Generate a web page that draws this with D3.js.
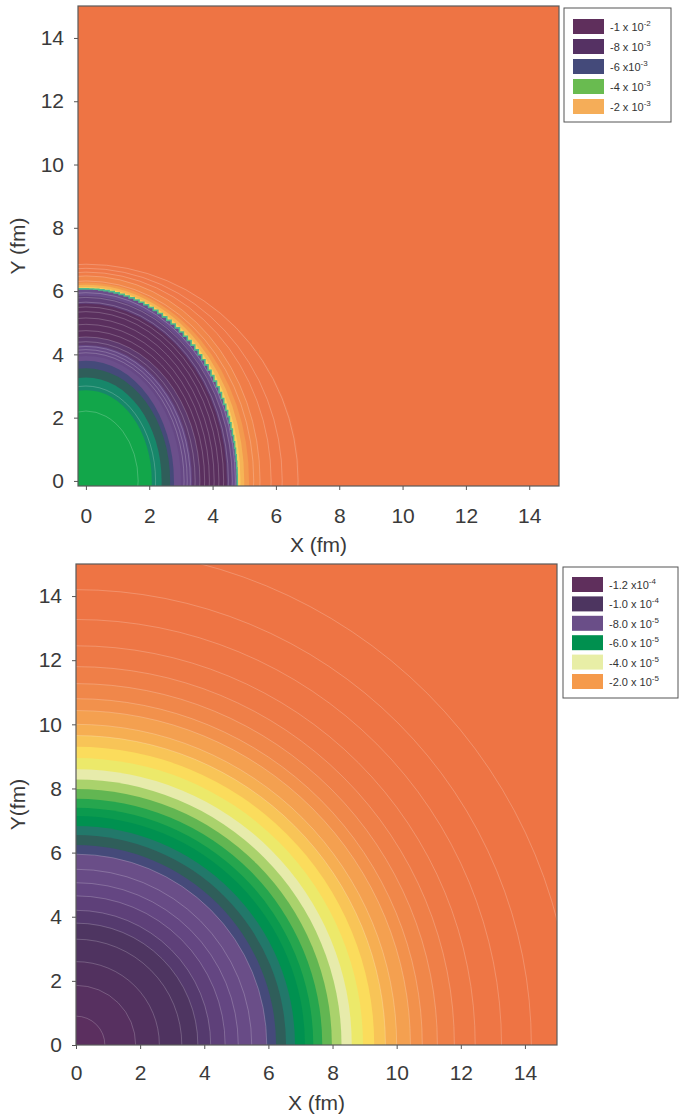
<!DOCTYPE html>
<html><head><meta charset="utf-8">
<script src="https://cdn.jsdelivr.net/npm/d3@7"></script>
<style>
html,body{margin:0;padding:0;background:#fff;}
svg{display:block;font-family:"Liberation Sans",Arial,sans-serif;}
</style></head>
<body>
<svg id="c" width="681" height="1117"></svg>
<script>
// ---------- data: top panel (elliptical bands, fm) ----------
const topBandRx   = [6.75, 5.85, 5.5, 5.15, 5.0, 4.88];
const topBandRy   = [6.85, 6.6, 6.48, 6.27, 6.2, 6.13];
const topBandCol  = ["#ef7848", "#f07d48", "#f1874a", "#f39a4e", "#f6b456", "#f8cf5f"];
const topEdgeRx = 4.78, topEdgeRy = 6.07;           // pixelated outer edge of the well
const topInRx  = [4.78, 4.62, 4.45, 3.6, 3.35, 3.0, 2.78, 2.66, 2.39, 2.08];
const topInRy  = [6.07, 5.85, 5.6, 4.55, 4.3, 3.95, 3.8, 3.56, 3.27, 2.87];
const topInCol = ["#6a4d8a", "#5f3f77", "#5a2f5e", "#5d3a6e", "#664885", "#6b4f8b", "#454a7a", "#2f5e5a", "#17876a", "#12a64a"];
const topLineRx = [6.7, 6.2, 5.85, 5.5, 5.3, 4.72, 4.62, 4.5, 4.35, 4.2, 4.05, 3.9, 3.75, 3.6, 3.45, 3.3, 3.2, 3.1, 2.2, 1.65];
const topLineRy = [6.85, 6.72, 6.6, 6.48, 6.32, 5.95, 5.8, 5.65, 5.5, 5.35, 5.15, 4.95, 4.75, 4.55, 4.4, 4.25, 4.15, 4.05, 3.0, 2.21];
const topLegendCol = ["#5f2f5c", "#553163", "#444a7a", "#69bb50", "#f5ad58"];
const topLegendMan = ["-1 x 10", "-8 x 10", "-6 x10", "-4 x 10", "-2 x 10"];
const topLegendExp = ["-2", "-3", "-3", "-3", "-3"];

// ---------- data: bottom panel (circular bands, fm) ----------
const botBandR = [0.9, 1.86, 2.6, 3.3, 3.8, 4.2, 4.65, 5.06, 5.48, 5.95, 6.24, 6.55, 6.83, 7.14, 7.4, 7.68, 7.98, 8.28, 8.6, 8.95, 9.3, 9.65, 10.0, 10.43, 10.8, 11.27, 11.8, 12.45, 13.27];
const botBandCol = ["#5b2f5f", "#573060", "#52315f", "#4f3360", "#4e3561", "#553a6e", "#5e4079", "#644682", "#684b86", "#6a4e88",
  "#454a7a", "#2f5e5a", "#22786a", "#009150", "#0b9a4e", "#26a64e", "#62b652", "#aad26c", "#e7ebab", "#ece96a",
  "#fbdc5c", "#f8c457", "#f6ae52", "#f4a050", "#f2914c", "#f0874a", "#ef7f48", "#ee7946", "#ee7645"];
const botOuterCol = "#ee7444";
const botLineR = [0.9, 1.86, 2.6, 3.3, 3.8, 4.2, 4.65, 5.06, 5.48, 5.95, 9.65, 10.0, 10.43, 10.8, 11.27, 11.8, 12.45, 13.27, 14.2, 15.5];
const botLegendCol = ["#5f2f5c", "#4d3560", "#6a4e88", "#00904f", "#e8eea6", "#f59a4b"];
const botLegendMan = ["-1.2 x10", "-1.0 x 10", "-8.0 x 10", "-6.0 x 10", "-4.0 x 10", "-2.0 x 10"];
const botLegendExp = ["-4", "-4", "-5", "-5", "-5", "-5"];

const ticks = [0, 2, 4, 6, 8, 10, 12, 14];
const bgTop = "#ee7444";

const svg = d3.select("#c");
const defs = svg.append("defs");

function panel(o) {
  const x = d3.scaleLinear().domain(o.xd).range(o.xr);
  const y = d3.scaleLinear().domain(o.yd).range(o.yr);
  const id = o.id;
  defs.append("clipPath").attr("id", id).append("rect")
    .attr("x", o.xr[0]).attr("y", o.yr[1]).attr("width", o.xr[1] - o.xr[0]).attr("height", o.yr[0] - o.yr[1]);
  const g = svg.append("g");
  const plot = g.append("g").attr("clip-path", `url(#${id})`);
  plot.append("rect").attr("x", o.xr[0]).attr("y", o.yr[1]).attr("width", o.xr[1] - o.xr[0]).attr("height", o.yr[0] - o.yr[1]).attr("fill", o.bg);
  const cx = x(0), cy = y(0);
  o.draw(plot, x, y, cx, cy);
  // frame
  g.append("rect").attr("x", o.xr[0]).attr("y", o.yr[1]).attr("width", o.xr[1] - o.xr[0]).attr("height", o.yr[0] - o.yr[1])
    .attr("fill", "none").attr("stroke", "#5a5a5a").attr("stroke-width", 1.2);
  // axes
  const xa = g.append("g").attr("transform", `translate(0,${o.yr[0]})`)
    .call(d3.axisBottom(x).tickValues(ticks).tickSize(4).tickPadding(o.xPad).tickFormat(d3.format("d")));
  const ya = g.append("g").attr("transform", `translate(${o.xr[0]},0)`)
    .call(d3.axisLeft(y).tickValues(ticks).tickSize(4).tickPadding(10).tickFormat(d3.format("d")));
  [xa, ya].forEach(a => {
    a.select(".domain").remove();
    a.selectAll("line").attr("stroke", "#555");
    a.selectAll("text").attr("fill", "#3a3a3a").attr("font-size", 21).attr("font-family", "Liberation Sans, Arial, sans-serif");
  });
  g.append("text").attr("x", (o.xr[0] + o.xr[1]) / 2).attr("y", o.xTitleY).attr("text-anchor", "middle")
    .attr("fill", "#3a3a3a").attr("font-size", 21).text("X (fm)");
  g.append("text").attr("transform", `translate(${o.yTitleX},${(o.yr[0] + o.yr[1]) / 2}) rotate(-90)`).attr("text-anchor", "middle")
    .attr("fill", "#3a3a3a").attr("font-size", 21).text(o.yTitle);
  // legend
  const L = o.legend;
  const lg = g.append("g");
  lg.append("rect").attr("x", L.x).attr("y", L.y).attr("width", L.w).attr("height", L.h)
    .attr("fill", "#fff").attr("stroke", "#555").attr("stroke-width", 1);
  L.col.forEach((c, i) => {
    const yy = L.y + L.top + i * L.step;
    lg.append("rect").attr("x", L.x + 9).attr("y", yy).attr("width", 31).attr("height", 15).attr("fill", c);
    const t = lg.append("text").attr("x", L.x + 46).attr("y", yy + 12).attr("fill", "#333").attr("font-size", 11);
    t.append("tspan").text(L.man[i]);
    t.append("tspan").attr("dy", -5).attr("font-size", 8).text(L.exp[i]);
  });
}

// ---------- top panel ----------
panel({
  id: "clipTop", xd: [-0.25, 14.94], xr: [78, 559], yd: [-0.16, 15.01], yr: [486, 6], bg: bgTop,
  xPad: 18, xTitleY: 552, yTitleX: 25, yTitle: "Y (fm)",
  legend: {x: 564, y: 8, w: 107, h: 114, top: 11, step: 20, col: topLegendCol, man: topLegendMan, exp: topLegendExp},
  draw: (p, x, y, cx, cy) => {
    topBandRx.forEach((r, i) => {
      p.append("ellipse").attr("cx", cx).attr("cy", cy)
        .attr("rx", x(r) - cx).attr("ry", cy - y(topBandRy[i])).attr("fill", topBandCol[i]);
    });
    // pixelated edge of the well
    const erx = x(topEdgeRx) - cx, ery = cy - y(topEdgeRy);
    const n = 46;
    const pts = d3.range(n + 1).map(k => {
      const a = (k / n) * Math.PI / 2;
      return [cx + erx * Math.cos(a), cy - ery * Math.sin(a)];
    });
    const path = d3.line().curve(d3.curveStep)([[cx + erx, cy + 20], ...pts, [cx - 20, cy - ery]]);
    p.append("path").attr("d", path + `L${cx - 20},${cy + 20}Z`)
      .attr("fill", topInCol[0]).attr("stroke", "#4fb98c").attr("stroke-width", 1.6);
    topInRx.slice(1).forEach((r, i) => {
      p.append("ellipse").attr("cx", cx).attr("cy", cy)
        .attr("rx", x(r) - cx).attr("ry", cy - y(topInRy[i + 1])).attr("fill", topInCol[i + 1]);
    });
    topLineRx.forEach((r, i) => {
      p.append("ellipse").attr("cx", cx).attr("cy", cy)
        .attr("rx", x(r) - cx).attr("ry", cy - y(topLineRy[i]))
        .attr("fill", "none").attr("stroke", "#fff").attr("stroke-opacity", 0.3).attr("stroke-width", 0.7);
    });
  }
});

// ---------- bottom panel ----------
panel({
  id: "clipBot", xd: [0, 15], xr: [76, 557], yd: [0, 15], yr: [1045, 564], bg: botOuterCol,
  xPad: 16, xTitleY: 1110, yTitleX: 25, yTitle: "Y(fm)",
  legend: {x: 563, y: 567, w: 115, h: 131, top: 10, step: 19.4, col: botLegendCol, man: botLegendMan, exp: botLegendExp},
  draw: (p, x, y, cx, cy) => {
    for (let i = botBandR.length - 1; i >= 0; i--) {
      p.append("ellipse").attr("cx", cx).attr("cy", cy)
        .attr("rx", x(botBandR[i]) - cx).attr("ry", cy - y(botBandR[i])).attr("fill", botBandCol[i]);
    }
    botLineR.forEach(r => {
      p.append("ellipse").attr("cx", cx).attr("cy", cy)
        .attr("rx", x(r) - cx).attr("ry", cy - y(r))
        .attr("fill", "none").attr("stroke", "#fff").attr("stroke-opacity", 0.3).attr("stroke-width", 0.7);
    });
  }
});
</script>
</body></html>
